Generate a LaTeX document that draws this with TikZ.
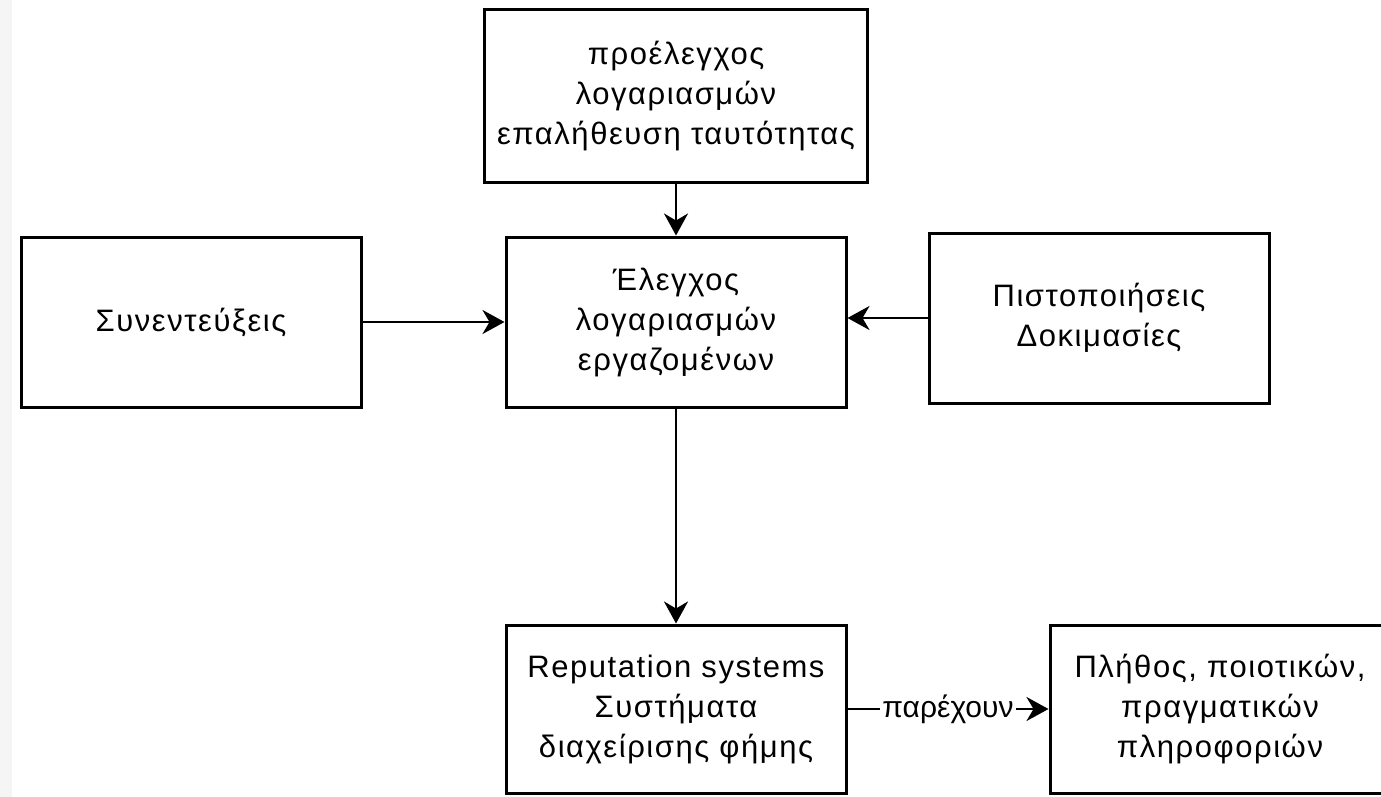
\documentclass[tikz,border=0pt]{standalone}
\usepackage{fontspec}
\setmainfont{Liberation Sans}
\newfontfamily\boxfont[LetterSpace=5]{Liberation Sans}
\usetikzlibrary{arrows.meta}

\begin{document}
\begin{tikzpicture}
	[x=1pt,y=-1pt, >={Stealth[length=22pt,width=24pt,inset=7pt]},
	every node/.style={font=\fontsize{30}{40}\selectfont, align=center},
	box/.style={draw, line width=3pt, minimum width=340pt, minimum height=170pt,
		font=\boxfont\fontsize{31}{40}\selectfont}]
	\useasboundingbox (0,0) rectangle (1381,797);
	\clip (0,0) rectangle (1381,797);
	\fill[gray!8] (0,0) rectangle (12,797);
	
	\node[box, minimum width=383pt, minimum height=172pt] (pre) at (676,96) {προέλεγχος\\λογαριασμών\\επαλήθευση ταυτότητας};
	\node[box] (check) at (676,322) {Έλεγχος\\λογαριασμών\\εργαζομένων};
	\node[box] (interv) at (191,322) {Συνεντεύξεις};
	\node[box] (cert) at (1099,318) {Πιστοποιήσεις\\Δοκιμασίες};
	\node[box, minimum height=168pt] (rep) at (676,709) {Reputation systems\\Συστήματα\\διαχείρισης φήμης};
	\node[box, minimum height=168pt] (info) at (1220,709) {Πλήθος, ποιοτικών,\\πραγματικών\\πληροφοριών};
	
	\foreach \a/\b in {pre/check,interv/check,check/rep}
	\draw[->, line width=2.5pt] (\a) -- (\b);
	\draw[->, line width=2.5pt] (cert.west) -- (check.east |- cert.west);
	\draw[->, line width=2.5pt] (rep) -- node[fill=white, inner sep=2pt] {παρέχουν} (info);
\end{tikzpicture}
\end{document}
